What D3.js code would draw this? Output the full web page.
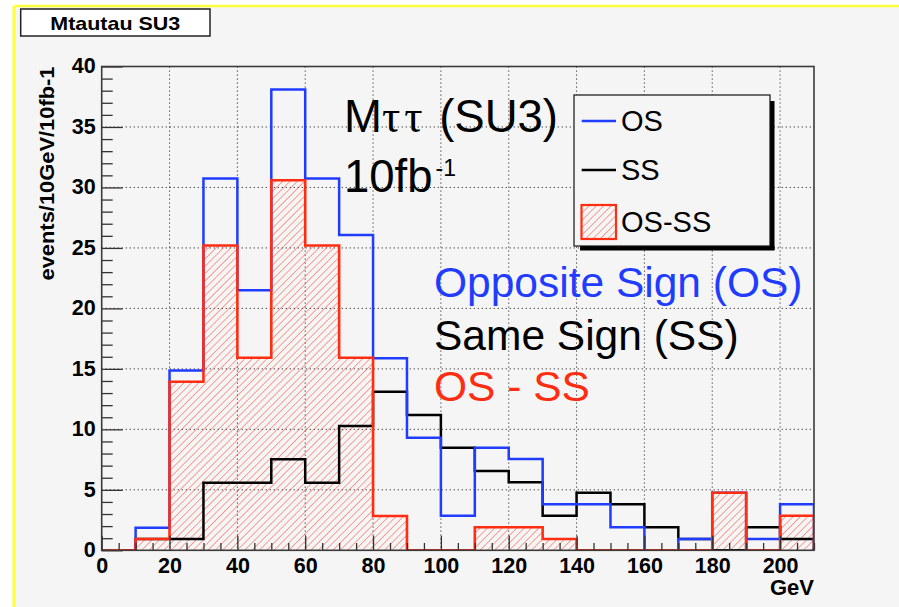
<!DOCTYPE html>
<html>
<head>
<meta charset="utf-8">
<script src="https://cdn.jsdelivr.net/npm/d3@7"></script>
<style>
  html, body { margin: 0; padding: 0; background: #ffffff; }
  svg { display: block; }
</style>
</head>
<body>
<svg id="chart" width="899" height="607"></svg>
<script>
// Lower edges of the 10 GeV mass bins
const binLow = [0, 10, 20, 30, 40, 50, 60, 70, 80, 90, 100, 110, 120, 130, 140, 150, 160, 170, 180, 190, 200];
const binWidth = 10;
const xMax = 210;

// Events per bin, opposite-sign pairs
const osCounts = [0, 1.87, 14.86, 30.74, 21.5, 38.1, 30.74, 26.06, 15.87, 9.31, 2.86, 8.48, 7.55, 3.80, 3.80, 1.90, 0, 0.93, 4.76, 0.93, 3.80];
// Events per bin, same-sign pairs
const ssCounts = [0, 0.93, 0.93, 5.59, 5.59, 7.52, 5.59, 10.27, 13.11, 11.18, 8.48, 6.55, 5.62, 2.86, 4.76, 3.80, 1.90, 0.93, 0, 1.90, 0.93];
// OS minus SS, negative bins shown as zero
const diffCounts = [0, 0.93, 13.93, 25.2, 15.92, 30.6, 25.2, 15.92, 2.83, 0, 0, 1.90, 1.90, 0.93, 0, 0, 0, 0, 4.76, 0, 2.86];

const xMajorTicks = [0, 20, 40, 60, 80, 100, 120, 140, 160, 180, 200];
const yMajorTicks = [0, 5, 10, 15, 20, 25, 30, 35, 40];

const legendItems = ["OS", "SS", "OS-SS"];
const noteLines = ["Opposite Sign (OS)", "Same Sign (SS)", "OS - SS"];

const BLUE = "#1f3cff";
const RED = "#ff2d12";
const BG = "#f5f5f5";
const FRAME = "#3a3a3a";

const svg = d3.select("#chart");

// canvas background with yellow pad border
svg.append("rect").attr("x", 0).attr("y", 0).attr("width", 899).attr("height", 607).attr("fill", "#ffffff");
svg.append("rect").attr("x", 14).attr("y", 6).attr("width", 899).attr("height", 607).attr("fill", BG);
svg.append("line").attr("x1", 14).attr("x2", 899).attr("y1", 6).attr("y2", 6).attr("stroke", "#ffff3c").attr("stroke-width", 2.5);
svg.append("line").attr("x1", 14).attr("x2", 14).attr("y1", 6).attr("y2", 607).attr("stroke", "#ffff3c").attr("stroke-width", 3);

const plot = { left: 101.7, right: 814, top: 66.5, bottom: 550.3 };

const x = d3.scaleLinear().domain([0, xMax]).range([plot.left, plot.right]);
const y = d3.scaleLinear().domain([0, 40]).range([plot.bottom, plot.top]);

// hatch pattern for the OS-SS fill
const defs = svg.append("defs");
defs.append("pattern")
  .attr("id", "hatch")
  .attr("patternUnits", "userSpaceOnUse")
  .attr("width", 5.2).attr("height", 5.2)
  .attr("patternTransform", "rotate(45)")
  .append("line")
  .attr("x1", 0).attr("y1", 0).attr("x2", 0).attr("y2", 5.2)
  .attr("stroke", RED).attr("stroke-width", 1).attr("stroke-opacity", 0.85);

defs.append("clipPath").attr("id", "plotClip")
  .append("rect")
  .attr("x", plot.left).attr("y", plot.top)
  .attr("width", plot.right - plot.left).attr("height", plot.bottom - plot.top);

// dotted grid
const grid = svg.append("g");
grid.selectAll("line.gx")
  .data(xMajorTicks.filter(d => d > 0))
  .join("line")
  .attr("x1", d => x(d)).attr("x2", d => x(d))
  .attr("y1", plot.top).attr("y2", plot.bottom)
  .attr("stroke", "#333").attr("stroke-width", 1).attr("stroke-dasharray", "1.2,2.8");
grid.selectAll("line.gy")
  .data(yMajorTicks.filter(d => d > 0 && d < 40))
  .join("line")
  .attr("x1", plot.left).attr("x2", plot.right)
  .attr("y1", d => y(d)).attr("y2", d => y(d))
  .attr("stroke", "#333").attr("stroke-width", 1).attr("stroke-dasharray", "1.2,2.8");

// step outline points: start at baseline, each bin, close at right edge
function stepPoints(counts) {
  const pts = [[0, 0]];
  binLow.forEach((lo, i) => pts.push([lo, counts[i]]));
  pts.push([binLow[binLow.length - 1] + binWidth, counts[counts.length - 1]]);
  pts.push([binLow[binLow.length - 1] + binWidth, 0]);
  return pts;
}

const stepLine = d3.line()
  .x(d => x(d[0]))
  .y(d => y(d[1]))
  .curve(d3.curveStepAfter);

const hist = svg.append("g").attr("clip-path", "url(#plotClip)");

// hatched area under OS-SS
hist.append("path")
  .attr("d", stepLine(stepPoints(diffCounts)) + "Z")
  .attr("fill", "url(#hatch)")
  .attr("stroke", "none");

hist.append("path")
  .attr("d", stepLine(stepPoints(ssCounts)))
  .attr("fill", "none").attr("stroke", "#000").attr("stroke-width", 2.5);

hist.append("path")
  .attr("d", stepLine(stepPoints(osCounts)))
  .attr("fill", "none").attr("stroke", BLUE).attr("stroke-width", 2.5);

hist.append("path")
  .attr("d", stepLine(stepPoints(diffCounts)))
  .attr("fill", "none").attr("stroke", RED).attr("stroke-width", 2.6);

// axes
const tickFont = "'Liberation Sans', Arial, Helvetica, sans-serif";

const yAxis = svg.append("g").attr("transform", `translate(${plot.left},0)`)
  .call(d3.axisLeft(y).tickValues(yMajorTicks).tickSize(-21).tickPadding(6).tickFormat(d3.format("d")));
const yMinor = svg.append("g").attr("transform", `translate(${plot.left},0)`)
  .call(d3.axisLeft(y).tickValues(d3.range(0, 41).filter(d => d % 5 !== 0)).tickSize(-11).tickFormat(""));

const xAxis = svg.append("g").attr("transform", `translate(0,${plot.bottom})`)
  .call(d3.axisBottom(x).tickValues(xMajorTicks).tickSize(-14.5).tickPadding(7).tickFormat(d3.format("d")));
const xMinor = svg.append("g").attr("transform", `translate(0,${plot.bottom})`)
  .call(d3.axisBottom(x).tickValues(d3.range(5, 211, 5).filter(d => d % 20 !== 0)).tickSize(-7.3).tickFormat(""));

[yAxis, yMinor, xAxis, xMinor].forEach(g => {
  g.select(".domain").remove();
  g.selectAll(".tick line").attr("stroke", "#333").attr("stroke-width", 1.3);
  g.selectAll(".tick text")
    .attr("fill", "#000")
    .style("font-family", tickFont)
    .style("font-weight", "bold")
    .style("font-size", "21.5px");
});
yAxis.selectAll(".tick text").attr("dy", "0.3em");

// frame
svg.append("rect")
  .attr("x", plot.left).attr("y", plot.top)
  .attr("width", plot.right - plot.left).attr("height", plot.bottom - plot.top)
  .attr("fill", "none").attr("stroke", FRAME).attr("stroke-width", 1.6);

// axis titles
svg.append("text")
  .attr("transform", `translate(54,${plot.top}) rotate(-90)`)
  .attr("text-anchor", "end")
  .style("font-family", tickFont).style("font-weight", "bold").style("font-size", "20px")
  .attr("textLength", 214).attr("lengthAdjust", "spacingAndGlyphs")
  .text("events/10GeV/10fb-1");

svg.append("text")
  .attr("x", plot.right).attr("y", 595)
  .attr("text-anchor", "end")
  .style("font-family", tickFont).style("font-weight", "bold").style("font-size", "22px")
  .text("GeV");

// histogram title box
svg.append("rect")
  .attr("x", 20.7).attr("y", 9).attr("width", 189.3).attr("height", 27)
  .attr("fill", "#ffffff").attr("stroke", "#222").attr("stroke-width", 1.5);
svg.append("text")
  .attr("x", 115.3).attr("y", 29.5)
  .attr("text-anchor", "middle")
  .style("font-family", tickFont).style("font-weight", "bold").style("font-size", "18.5px")
  .attr("textLength", 130).attr("lengthAdjust", "spacingAndGlyphs")
  .text("Mtautau SU3");

// annotation
const bigFont = "'Liberation Sans', Arial, Helvetica, sans-serif";
const head = svg.append("text")
  .attr("x", 344).attr("y", 132)
  .style("font-family", bigFont).style("font-size", "45.5px").attr("fill", "#000");
head.append("tspan").text("M");
head.append("tspan")
  .style("font-family", "'Liberation Serif', 'DejaVu Serif', serif")
  .style("letter-spacing", "4px")
  .text("ττ");
head.append("tspan").text(" (SU3)");

const lumi = svg.append("text")
  .attr("x", 344).attr("y", 192)
  .style("font-family", bigFont).style("font-size", "45.5px").attr("fill", "#000");
lumi.append("tspan").text("10fb");
lumi.append("tspan").attr("dy", -16).attr("dx", 3).style("font-size", "23px").text("-1");

const noteColors = [BLUE, "#000", RED];
const noteY = [296.7, 350, 400.5];
svg.selectAll("text.note")
  .data(noteLines)
  .join("text")
  .attr("class", "note")
  .attr("x", 434).attr("y", (d, i) => noteY[i])
  .attr("fill", (d, i) => noteColors[i])
  .style("font-family", bigFont).style("font-size", "42.5px")
  .text(d => d);

// legend with drop shadow
const lg = svg.append("g");
lg.append("rect").attr("x", 770).attr("y", 101).attr("width", 4.5).attr("height", 149).attr("fill", "#000");
lg.append("rect").attr("x", 580).attr("y", 246).attr("width", 194.5).attr("height", 4.5).attr("fill", "#000");
lg.append("rect").attr("x", 574).attr("y", 95).attr("width", 196).attr("height", 151)
  .attr("fill", BG).attr("stroke", "#111").attr("stroke-width", 1.2);

const legendY = [121, 170, 221.8];
lg.append("line").attr("x1", 581.7).attr("x2", 616).attr("y1", legendY[0]).attr("y2", legendY[0])
  .attr("stroke", BLUE).attr("stroke-width", 2.5);
lg.append("line").attr("x1", 581.7).attr("x2", 616).attr("y1", legendY[1]).attr("y2", legendY[1])
  .attr("stroke", "#000").attr("stroke-width", 2.5);
lg.append("rect").attr("x", 581.5).attr("y", 205).attr("width", 34.5).attr("height", 34)
  .attr("fill", "url(#hatch)").attr("stroke", RED).attr("stroke-width", 2.2);

lg.selectAll("text.leg")
  .data(legendItems)
  .join("text")
  .attr("class", "leg")
  .attr("x", 621).attr("y", (d, i) => legendY[i])
  .attr("dy", "0.36em")
  .style("font-family", bigFont).style("font-size", "29px").attr("fill", "#000")
  .text(d => d);
</script>
</body>
</html>
